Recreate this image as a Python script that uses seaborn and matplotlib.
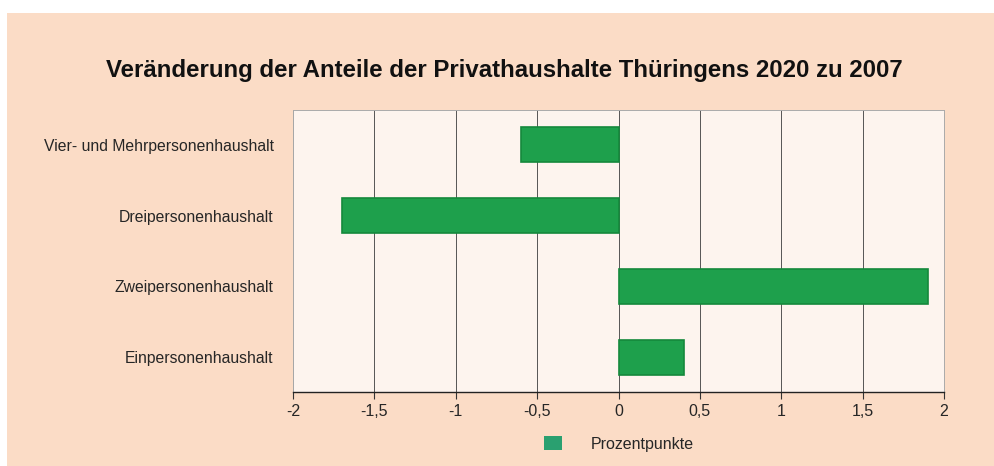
import matplotlib
matplotlib.use("Agg")
import matplotlib.pyplot as plt
import matplotlib.patches as patches
import seaborn as sns
import pandas as pd

categories = ["Vier- und Mehrpersonenhaushalt", "Dreipersonenhaushalt",
              "Zweipersonenhaushalt", "Einpersonenhaushalt"]
values = [-0.6, -1.7, 1.9, 0.4]
xticks = [-2, -1.5, -1, -0.5, 0, 0.5, 1, 1.5, 2]
xticklabels = ["-2", "-1,5", "-1", "-0,5", "0", "0,5", "1", "1,5", "2"]
title = "Veränderung der Anteile der Privathaushalte Thüringens 2020 zu 2007"
legend_label = "Prozentpunkte"

df = pd.DataFrame({"Haushalt": categories, "Wert": values})

sns.set_style("white")
plt.rcParams["font.family"] = ["Liberation Sans", "DejaVu Sans"]

peach = "#fbdcc6"
green = "#1ea04c"

fig = plt.figure(figsize=(9.95, 4.66), dpi=100, facecolor="white")
# peach card behind the chart (a thin white margin at top/left)
fig.patches.append(patches.Rectangle((0.007, 0), 0.993, 0.972, transform=fig.transFigure,
                                     facecolor=peach, edgecolor="none", zorder=-5))

ax = fig.add_axes([293 / 995, 1 - 392 / 466, (944 - 293) / 995, (392 - 110) / 466])
ax.set_zorder(2)
ax.set_facecolor("#fdf4ee")

sns.barplot(data=df, x="Wert", y="Haushalt", orient="h", color=green, saturation=1,
            width=0.49, edgecolor="#15883c", linewidth=1.2, ax=ax, zorder=3,
            label=legend_label)
if ax.get_legend() is not None:
    ax.get_legend().remove()

ax.set_xlim(-2, 2)
ax.set_xticks(xticks)
ax.set_xticklabels(xticklabels, fontsize=11.5)
ax.set_xlabel("")
ax.set_ylabel("")
ax.tick_params(axis="y", length=0, labelsize=11.3, pad=14)
ax.tick_params(axis="x", length=5, width=0.8, color="#333333", direction="out",
               bottom=True, pad=4)
ax.grid(axis="x", color="#555555", linewidth=0.7, zorder=1)
ax.set_axisbelow(True)
ax.set_ylim(3.49, -0.49)

for side in ["top", "right", "left"]:
    ax.spines[side].set_color("#aaaaaa")
    ax.spines[side].set_linewidth(0.7)
ax.spines["bottom"].set_color("#222222")
ax.spines["bottom"].set_linewidth(1.0)

fig.text(0.507, 1 - 70 / 466, title, ha="center", va="center",
         fontsize=17.3, fontweight="bold", color="#111111")

handles, labels = ax.get_legend_handles_labels()
leg = fig.legend(handles, labels, loc="center", bbox_to_anchor=(0.622, 1 - 444 / 466),
                 frameon=False, fontsize=11.5, handlelength=1.1, handleheight=0.9,
                 handletextpad=1.8)
for h in leg.legend_handles:
    h.set_facecolor("#2aa070")
    h.set_edgecolor("none")

fig.savefig("out.png", dpi=100, facecolor=fig.get_facecolor())
